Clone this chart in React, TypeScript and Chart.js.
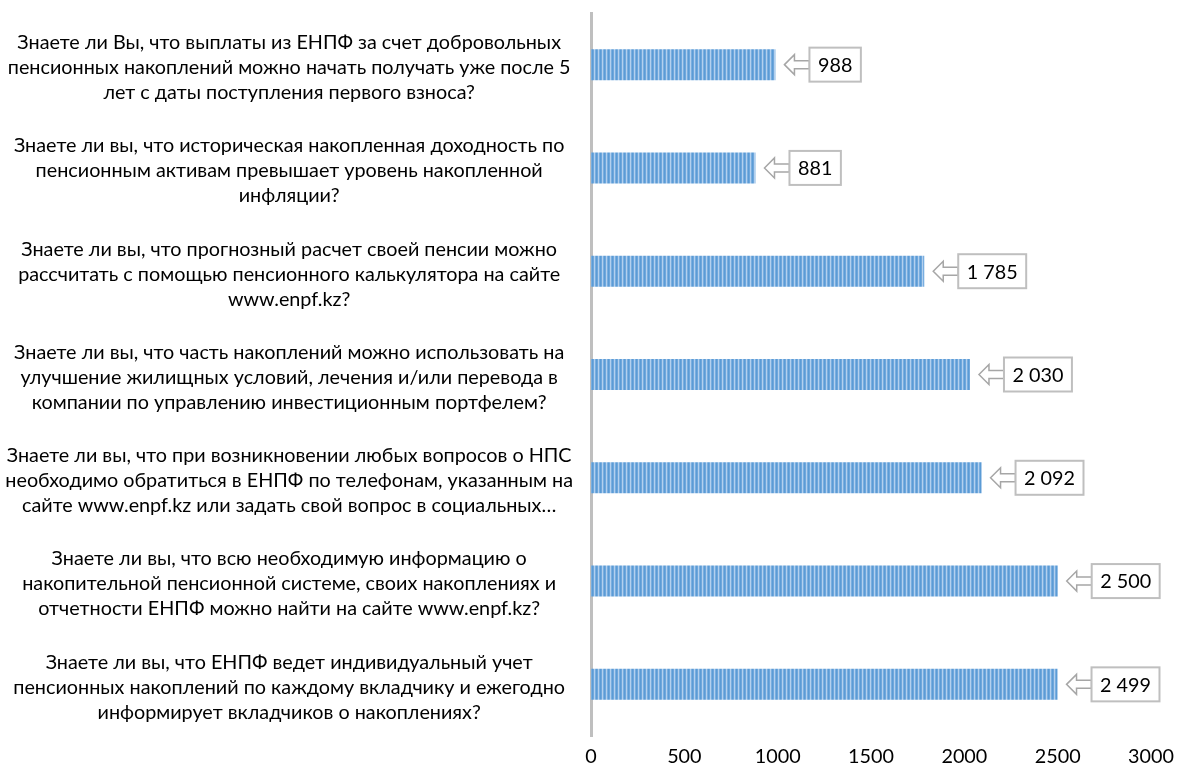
import React, { useEffect, useRef } from "react";
import { Chart, registerables } from "chart.js";

Chart.register(...registerables);

const questions: string[][] = [
  [
    "Знаете ли Вы, что выплаты из ЕНПФ за счет добровольных",
    "пенсионных накоплений можно начать получать уже после 5",
    "лет с даты поступления первого взноса?",
  ],
  [
    "Знаете ли вы, что историческая накопленная доходность по",
    "пенсионным активам превышает уровень накопленной",
    "инфляции?",
  ],
  [
    "Знаете ли вы, что прогнозный расчет своей пенсии можно",
    "рассчитать с помощью пенсионного калькулятора на сайте",
    "www.enpf.kz?",
  ],
  [
    "Знаете ли вы, что часть накоплений можно использовать на",
    "улучшение жилищных условий, лечения и/или перевода в",
    "компании по управлению инвестиционным портфелем?",
  ],
  [
    "Знаете ли вы, что при возникновении любых вопросов о НПС",
    "необходимо обратиться в ЕНПФ по телефонам, указанным на",
    "сайте www.enpf.kz или задать свой вопрос в социальных…",
  ],
  [
    "Знаете ли вы, что всю необходимую информацию о",
    "накопительной пенсионной системе, своих накоплениях и",
    "отчетности ЕНПФ можно найти на сайте www.enpf.kz?",
  ],
  [
    "Знаете ли вы, что ЕНПФ ведет индивидуальный учет",
    "пенсионных накоплений по каждому вкладчику и ежегодно",
    "информирует вкладчиков о накоплениях?",
  ],
];

const answers: number[] = [988, 881, 1785, 2030, 2092, 2500, 2499];
const valueLabels: string[] = ["988", "881", "1 785", "2 030", "2 092", "2 500", "2 499"];

const FONT = "Lato";
const FS = 19.8;

function makePattern(): CanvasPattern | string {
  const c = document.createElement("canvas");
  c.width = 4;
  c.height = 4;
  const g = c.getContext("2d");
  if (!g) return "#5B9BD5";
  const cols = ["#5B9BD5", "#6FA7DC", "#B3D0EE", "#79AEE0"];
  cols.forEach((col, i) => {
    g.fillStyle = col;
    g.fillRect(i, 0, 1, 4);
  });
  return g.createPattern(c, "repeat") || "#5B9BD5";
}

const calloutPlugin = {
  id: "callouts",
  afterDatasetsDraw(chart: any) {
    const ctx = chart.ctx as CanvasRenderingContext2D;
    const meta = chart.getDatasetMeta(0);
    ctx.save();
    ctx.font = `${FS}px ${FONT}`;
    meta.data.forEach((bar: any, i: number) => {
      const label = valueLabels[i];
      const tipX = bar.x + 9;
      const cy = bar.y;
      const headLen = 10;
      const headH = 10;
      const shaftH = 4;
      const shaftEnd = tipX + 25;
      const tw = ctx.measureText(label).width;
      const boxW = tw + 17;
      const boxH = 34;
      ctx.beginPath();
      ctx.moveTo(tipX, cy);
      ctx.lineTo(tipX + headLen, cy - headH);
      ctx.lineTo(tipX + headLen, cy - shaftH);
      ctx.lineTo(shaftEnd, cy - shaftH);
      ctx.lineTo(shaftEnd, cy + shaftH);
      ctx.lineTo(tipX + headLen, cy + shaftH);
      ctx.lineTo(tipX + headLen, cy + headH);
      ctx.closePath();
      ctx.fillStyle = "#FFFFFF";
      ctx.fill();
      ctx.strokeStyle = "#A6A6A6";
      ctx.lineWidth = 1.5;
      ctx.stroke();
      const bx = shaftEnd;
      const by = cy - boxH / 2;
      ctx.fillStyle = "#FFFFFF";
      ctx.fillRect(bx, by, boxW, boxH);
      ctx.strokeStyle = "#BFBFBF";
      ctx.lineWidth = 2;
      ctx.strokeRect(bx, by, boxW, boxH);
      ctx.fillStyle = "#000000";
      ctx.textAlign = "center";
      ctx.textBaseline = "middle";
      ctx.fillText(label, bx + boxW / 2, cy + 1);
    });
    ctx.restore();
  },
};

export default function App() {
  const ref = useRef<HTMLCanvasElement | null>(null);
  useEffect(() => {
    if (!ref.current) return;
    const chart = new Chart(ref.current, {
      type: "bar",
      data: {
        labels: questions,
        datasets: [
          {
            data: answers,
            backgroundColor: makePattern() as any,
            borderWidth: 0,
            barPercentage: 0.3,
            categoryPercentage: 1,
          },
        ],
      },
      options: {
        indexAxis: "y",
        animation: false,
        responsive: false,
        maintainAspectRatio: false,
        layout: { padding: { top: 13, right: 2, bottom: 0, left: 0 } },
        plugins: {
          legend: { display: false },
          tooltip: { enabled: false },
        },
        scales: {
          x: {
            min: 0,
            max: 3000,
            ticks: {
              stepSize: 500,
              padding: 9,
              color: "#000000",
              font: { family: FONT, size: FS },
              maxRotation: 0,
              callback: (v: any) => String(v),
            },
            grid: { display: false, drawTicks: false },
            border: { display: false },
            afterFit(scale: any) {
              scale.height = 33;
            },
          },
          y: {
            ticks: {
              crossAlign: "center",
              padding: 18,
              labelOffset: 3,
              color: "#000000",
              font: { family: FONT, size: FS, lineHeight: 25 / FS },
              autoSkip: false,
            },
            grid: { display: false, drawTicks: false },
            border: { display: true, color: "#BFBFBF", width: 3 },
            afterFit(scale: any) {
              scale.width = 591;
              scale.paddingTop = 0;
              scale.paddingBottom = 0;
            },
          },
        },
      },
      plugins: [calloutPlugin],
    });
    return () => chart.destroy();
  }, []);
  return (
    <div style={{ position: "absolute", left: 0, top: 0, width: 1183, height: 769, background: "#fff" }}>
      <canvas ref={ref} width={1183} height={769} style={{ display: "block" }} />
    </div>
  );
}
